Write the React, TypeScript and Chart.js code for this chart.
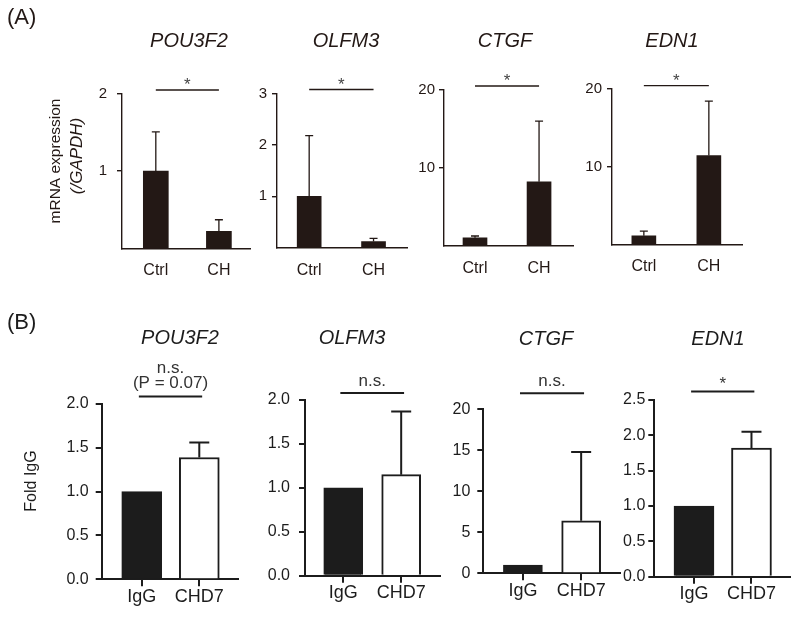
import React, { useEffect, useRef } from "react";
import { Chart, registerables } from "chart.js";
Chart.register(...registerables);

const W = 797;
const H = 617;
const FONT = '"Liberation Sans", Arial, Helvetica, sans-serif';

// ---------------- data ----------------
const genes = ["POU3F2", "OLFM3", "CTGF", "EDN1"];
const groupsA = ["Ctrl", "CH"];
const groupsB = ["IgG", "CHD7"];

// (A) mRNA expression (/GAPDH): mean and upper error
const mrnaMean = [
  [1.0, 0.22],
  [1.0, 0.12],
  [1.0, 8.2],
  [1.1, 11.4],
];
const mrnaErr = [
  [0.51, 0.15],
  [1.18, 0.06],
  [0.22, 7.8],
  [0.6, 7.0],
];
const mrnaYMax = [2, 3, 20, 20];
const mrnaTicks = [
  [1, 2],
  [1, 2, 3],
  [10, 20],
  [10, 20],
];
const mrnaSig = [["*"], ["*"], ["*"], ["*"]];

// (B) ChIP fold IgG: mean and upper error
const chipMean = [
  [1.0, 1.39],
  [1.0, 1.15],
  [1.0, 6.4],
  [1.0, 1.82],
];
const chipErr = [
  [0, 0.17],
  [0, 0.72],
  [0, 8.4],
  [0, 0.23],
];
const chipYMax = [2, 2, 20, 2.5];
const chipTicks = [
  [0, 0.5, 1, 1.5, 2],
  [0, 0.5, 1, 1.5, 2],
  [0, 5, 10, 15, 20],
  [0, 0.5, 1, 1.5, 2, 2.5],
];
const chipTickDecimals = [1, 1, 0, 1];
const chipSig = [["n.s.", "(P = 0.07)"], ["n.s."], ["n.s."], ["*"]];

// ---------------- layout (page pixels) ----------------
type Lay = {
  left: number; right: number; top: number; bottom: number;
  xMin: number; xMax: number; bar: number; tickPad: number;
  titleX: number; titleY: number; sigOffset: number; sigGap: number;
};
const layA: Lay[] = [
  { left: 122, right: 250, top: 94, bottom: 248.3, xMin: -0.536, xMax: 1.493, bar: 25, tickPad: 10, titleX: 189, titleY: 46.5, sigOffset: 4, sigGap: 0 },
  { left: 277, right: 407, top: 93.5, bottom: 247.7, xMin: -0.5, xMax: 1.52, bar: 24, tickPad: 5, titleX: 346, titleY: 46.5, sigOffset: 4, sigGap: 0 },
  { left: 444, right: 573, top: 90, bottom: 245.5, xMin: -0.484, xMax: 1.53, bar: 24, tickPad: 4, titleX: 505, titleY: 46.5, sigOffset: 4, sigGap: 0 },
  { left: 612, right: 742, top: 88.7, bottom: 244.3, xMin: -0.49, xMax: 1.51, bar: 24, tickPad: 5, titleX: 672, titleY: 46.5, sigOffset: 3, sigGap: 0 },
];
const layB: Lay[] = [
  { left: 101.7, right: 238.3, top: 404, bottom: 579.3, xMin: -0.696, xMax: 1.678, bar: 40, tickPad: 7, titleX: 180, titleY: 343.5, sigOffset: 7.5, sigGap: 8.8 },
  { left: 305, right: 440, top: 400, bottom: 575.7, xMin: -0.66, xMax: 1.67, bar: 39, tickPad: 9, titleX: 352, titleY: 343.5, sigOffset: 7, sigGap: 7.3 },
  { left: 483.3, right: 620, top: 409.3, bottom: 573.3, xMin: -0.68, xMax: 1.667, bar: 39, tickPad: 7, titleX: 546, titleY: 344.5, sigOffset: 16, sigGap: 7.5 },
  { left: 654.3, right: 790, top: 400, bottom: 576.7, xMin: -0.69, xMax: 1.67, bar: 40, tickPad: 3, titleX: 718, titleY: 344.5, sigOffset: 8.5, sigGap: 2.5 },
];

const YW = 40;
const XH = 40;
const colA = "#231815";
const colB = "#1c1c1c";

type Panel = {
  row: "A" | "B"; idx: number; lay: Lay; gene: string; groups: string[];
  means: number[]; errs: number[]; yMax: number; ticks: number[]; dec: number; sig: string[];
};

const panels: Panel[] = [
  ...genes.map((g, i) => ({
    row: "A" as const, idx: i, lay: layA[i], gene: g, groups: groupsA,
    means: mrnaMean[i], errs: mrnaErr[i], yMax: mrnaYMax[i], ticks: mrnaTicks[i], dec: 0, sig: mrnaSig[i],
  })),
  ...genes.map((g, i) => ({
    row: "B" as const, idx: i, lay: layB[i], gene: g, groups: groupsB,
    means: chipMean[i], errs: chipErr[i], yMax: chipYMax[i], ticks: chipTicks[i], dec: chipTickDecimals[i], sig: chipSig[i],
  })),
];

function buildConfig(p: Panel): any {
  const isB = p.row === "B";
  const col = isB ? colB : colA;
  const axW = isB ? 2 : 1.4;
  const L = p.lay;

  const annot = {
    id: "annot" + p.row + p.idx,
    afterDatasetsDraw(chart: any) {
      const ctx = chart.ctx;
      const ys = chart.scales.y;
      const meta = chart.getDatasetMeta(0);
      ctx.save();
      ctx.strokeStyle = col;
      ctx.lineWidth = isB ? 2 : 1.3;
      const cap = isB ? 20 : 8;
      meta.data.forEach((bar: any, i: number) => {
        const e = p.errs[i];
        if (!e) return;
        const y0 = ys.getPixelForValue(p.means[i]);
        const y1 = ys.getPixelForValue(p.means[i] + e);
        ctx.beginPath();
        ctx.moveTo(bar.x, y0);
        ctx.lineTo(bar.x, y1);
        ctx.moveTo(bar.x - cap / 2, y1);
        ctx.lineTo(bar.x + cap / 2, y1);
        ctx.stroke();
      });
      ctx.restore();
    },
    afterDraw(chart: any) {
      const ctx = chart.ctx;
      const xs = chart.scales.x;
      const area = chart.chartArea;
      ctx.save();
      ctx.fillStyle = col;
      // gene title
      ctx.font = `italic 20px ${FONT}`;
      ctx.textAlign = "center";
      ctx.textBaseline = "alphabetic";
      ctx.fillText(p.gene, L.titleX, L.titleY);
      // significance bracket
      const ly = area.top - L.sigOffset;
      const x0 = xs.getPixelForValue(isB ? -0.05 : 0);
      const x1 = xs.getPixelForValue(isB ? 1.05 : 1);
      ctx.strokeStyle = col;
      ctx.lineWidth = isB ? 2 : 1.3;
      ctx.beginPath();
      ctx.moveTo(x0, ly);
      ctx.lineTo(x1, ly);
      ctx.stroke();
      const mid = (x0 + x1) / 2;
      ctx.fillStyle = isB ? "#333" : "#444";
      ctx.font = `${isB ? 17 : 17}px ${FONT}`;
      let base = ly - L.sigGap;
      for (let k = p.sig.length - 1; k >= 0; k--) {
        ctx.fillText(p.sig[k], mid, base);
        base -= 15;
      }
      ctx.fillStyle = col;
      // y-axis titles and panel letters
      if (p.idx === 0) {
        ctx.font = `22px ${FONT}`;
        ctx.textAlign = "left";
        ctx.fillText(isB ? "(B)" : "(A)", 7, isB ? 329 : 24);
        ctx.textAlign = "center";
        ctx.textBaseline = "middle";
        if (!isB) {
          ctx.save();
          ctx.translate(56, 161);
          ctx.rotate(-Math.PI / 2);
          ctx.font = `15.5px ${FONT}`;
          ctx.fillText("mRNA expression", 0, 0);
          ctx.restore();
          ctx.save();
          ctx.translate(77.5, 156);
          ctx.rotate(-Math.PI / 2);
          ctx.font = `italic 17px ${FONT}`;
          ctx.fillText("(/GAPDH)", 0, 0);
          ctx.restore();
        } else {
          ctx.save();
          ctx.translate(31.5, 481);
          ctx.rotate(-Math.PI / 2);
          ctx.font = `16px ${FONT}`;
          ctx.fillText("Fold IgG", 0, 0);
          ctx.restore();
        }
      }
      ctx.restore();
    },
  };

  return {
    type: "bar",
    data: {
      datasets: [
        {
          data: p.means.map((v, i) => ({ x: i, y: v })),
          backgroundColor: isB ? [colB, "#ffffff"] : [colA, colA],
          borderColor: isB ? colB : colA,
          borderWidth: isB ? 2 : 0,
          borderSkipped: "start",
          barThickness: L.bar,
        },
      ],
    },
    options: {
      responsive: false,
      animation: false,
      events: [],
      layout: {
        padding: { left: L.left - YW, right: W - L.right, top: L.top, bottom: H - L.bottom - XH },
      },
      plugins: { legend: { display: false }, tooltip: { enabled: false }, title: { display: false } },
      scales: {
        x: {
          type: "linear",
          min: L.xMin,
          max: L.xMax,
          bounds: "data",
          offset: false,
          grid: {
            display: isB,
            drawOnChartArea: false,
            drawTicks: true,
            tickLength: 7,
            lineWidth: 2,
            color: colB,
            offset: false,
          },
          border: { display: true, width: axW, color: col },
          ticks: {
            font: { size: isB ? 18 : 16, family: FONT },
            color: col,
            padding: isB ? 0 : 6,
            maxRotation: 0,
            autoSkip: false,
            callback: (v: any) => (p.groups[v] !== undefined ? p.groups[v] : ""),
          },
          afterBuildTicks: (s: any) => {
            s.ticks = [{ value: 0 }, { value: 1 }];
          },
          afterFit: (s: any) => {
            s.height = XH;
          },
        },
        y: {
          type: "linear",
          min: 0,
          max: p.yMax,
          grid: {
            display: true,
            drawOnChartArea: false,
            drawTicks: true,
            tickLength: isB ? 6 : 5,
            lineWidth: axW,
            color: col,
          },
          border: { display: true, width: axW, color: col },
          ticks: {
            font: { size: isB ? 16 : 15, family: FONT },
            color: col,
            padding: L.tickPad,
            autoSkip: false,
            callback: (v: any) => Number(v).toFixed(p.dec),
          },
          afterBuildTicks: (s: any) => {
            s.ticks = p.ticks.map((v) => ({ value: v }));
          },
          afterFit: (s: any) => {
            s.width = YW;
          },
        },
      },
    },
    plugins: [annot],
  };
}

export default function App() {
  const refs = useRef<(HTMLCanvasElement | null)[]>([]);
  useEffect(() => {
    Chart.defaults.font.family = FONT;
    const charts = panels.map((p, i) => new Chart(refs.current[i] as HTMLCanvasElement, buildConfig(p)));
    return () => charts.forEach((c) => c.destroy());
  }, []);
  return (
    <div style={{ position: "absolute", left: 0, top: 0, width: W, height: H, background: "#fff", overflow: "hidden" }}>
      {panels.map((p, i) => (
        <canvas
          key={i}
          ref={(el) => {
            refs.current[i] = el;
          }}
          width={W}
          height={H}
          style={{ position: "absolute", left: 0, top: 0, width: W, height: H }}
        />
      ))}
    </div>
  );
}
